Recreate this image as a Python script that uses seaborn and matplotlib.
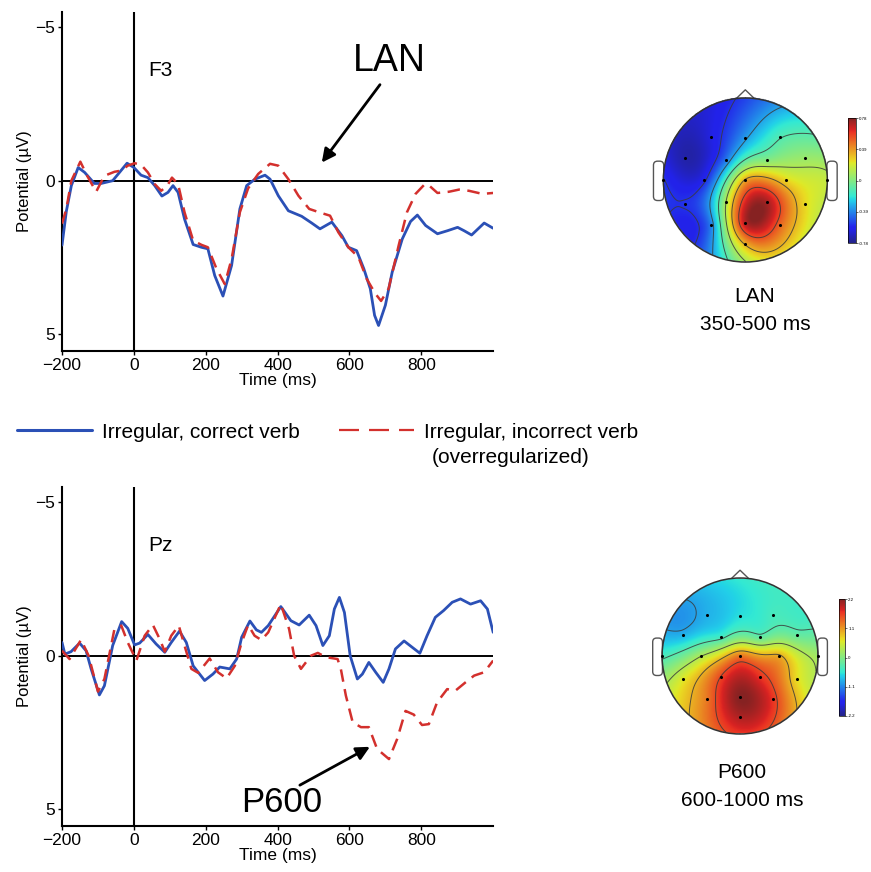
import numpy as np
import matplotlib
matplotlib.use("Agg")
import matplotlib.pyplot as plt
import matplotlib.patches as mpatches
from matplotlib.colors import ListedColormap
from matplotlib.lines import Line2D
import seaborn as sns

sns.set_style("ticks")
plt.rcParams['font.family'] = ['Liberation Sans', 'DejaVu Sans']
plt.rcParams['axes.unicode_minus'] = True
for key in ['text.color', 'axes.labelcolor', 'xtick.color', 'ytick.color', 'axes.edgecolor']:
    plt.rcParams[key] = 'black'

BLUE = '#2b50b6'
RED = '#d3302d'

# ---- ERP waveforms (µV, negative plotted up) ----
f3_t_correct = [-200, -188, -174, -155, -137, -110, -91, -59, -40, -19, 0, 20, 39, 58, 78,
                95, 109, 123, 141, 165, 188, 206, 225, 248, 272, 295, 314, 337, 365, 379,
                402, 430, 467, 495, 518, 551, 579, 597, 620, 640, 658, 670, 681, 700, 719,
                747, 770, 789, 812, 845, 873, 901, 919, 940, 975, 1000]
f3_correct = [2.1, 1.0, 0.16, -0.43, -0.27, 0.09, 0.09, 0.0, -0.27, -0.57, -0.43, -0.18, -0.10, 0.16, 0.50,
              0.38, 0.16, 0.38, 1.25, 2.08, 2.17, 2.22, 3.09, 3.76, 2.76, 0.92, 0.16, -0.05, -0.18, -0.05,
              0.49, 0.98, 1.16, 1.38, 1.57, 1.35, 1.79, 2.17, 2.28, 2.87, 3.52, 4.39, 4.72, 4.06, 2.98,
              1.90, 1.33, 1.12, 1.46, 1.73, 1.63, 1.52, 1.63, 1.77, 1.38, 1.55]

f3_t_incorrect = [-200, -188, -174, -149, -130, -105, -82, -54, -35, -17, 2, 20, 39, 58, 76,
                  93, 106, 123, 141, 165, 188, 206, 230, 253, 272, 295, 318, 346, 379, 402,
                  430, 458, 488, 521, 546, 569, 597, 625, 648, 672, 688, 709, 737, 760, 784,
                  810, 821, 845, 877, 905, 933, 970, 1000]
f3_incorrect = [1.4, 0.92, 0.0, -0.62, -0.16, 0.36, -0.16, -0.29, -0.33, -0.49, -0.57, -0.52, -0.27, 0.11, 0.33,
                0.16, -0.10, 0.11, 1.03, 1.95, 2.09, 2.17, 2.87, 3.37, 2.55, 1.03, 0.25, -0.22, -0.55, -0.49,
                -0.05, 0.49, 0.92, 1.05, 1.14, 1.68, 2.17, 2.49, 3.2, 3.68, 3.92, 3.52, 2.11, 1.03, 0.43,
                0.11, 0.15, 0.40, 0.36, 0.29, 0.33, 0.43, 0.40]

pz_t_correct = [-200, -192, -175, -151, -133, -119, -96, -82, -59, -34, -17, 2, 16, 39, 62,
                86, 104, 127, 146, 165, 197, 220, 239, 267, 286, 300, 323, 341, 355, 374,
                409, 437, 460, 488, 507, 526, 544, 558, 572, 586, 602, 622, 636, 654, 673,
                694, 710, 728, 752, 775, 796, 816, 839, 862, 886, 909, 937, 965, 984, 1000]
pz_correct = [-0.43, -0.05, -0.13, -0.41, -0.16, 0.43, 1.28, 0.98, -0.33, -1.11, -0.89, -0.35, -0.41, -0.69, -0.38,
              -0.11, -0.43, -0.80, -0.43, 0.33, 0.81, 0.60, 0.37, 0.43, 0.11, -0.60, -1.13, -0.84, -0.76, -0.98,
              -1.60, -1.14, -1.00, -1.32, -0.98, -0.33, -0.65, -1.52, -1.90, -1.41, 0.0, 0.76, 0.60, 0.22, 0.54,
              0.87, 0.43, -0.22, -0.48, -0.27, -0.08, -0.65, -1.25, -1.47, -1.74, -1.85, -1.68, -1.79, -1.52, -0.76]

pz_t_incorrect = [-200, -179, -147, -126, -100, -82, -54, -35, -17, 7, 30, 53, 72, 86, 104,
                  125, 141, 160, 179, 211, 234, 258, 281, 300, 318, 336, 355, 374, 409, 432,
                  446, 465, 493, 512, 535, 567, 576, 590, 609, 632, 654, 677, 710, 733, 756,
                  779, 802, 821, 844, 872, 895, 923, 947, 975, 1000]
pz_incorrect = [-0.16, 0.11, -0.52, 0.0, 1.17, 0.76, -0.87, -0.98, -0.43, 0.16, -0.65, -1.0, -0.54, -0.13, -0.65,
                -0.98, -0.33, 0.43, 0.56, 0.09, 0.54, 0.74, 0.33, -0.43, -1.0, -0.65, -0.51, -0.76, -1.68, -0.87,
                0.0, 0.43, 0.0, -0.09, 0.05, 0.11, 0.43, 1.3, 2.17, 2.33, 2.33, 3.04, 3.37, 2.71, 1.80,
                1.92, 2.26, 2.23, 1.52, 1.09, 1.14, 0.87, 0.65, 0.54, 0.16]

x_ticks = [-200, 0, 200, 400, 600, 800]
y_ticks = [-5, 0, 5]

# ---- scalp maps: electrode layout (unit head radius) and mean amplitudes ----
elec_x = [-0.42, 0.0, 0.42, -0.73, -0.24, 0.26, 0.73, -1.0, -0.5, 0.0, 0.5, 1.0,
          -0.73, -0.24, 0.26, 0.73, -0.42, 0.0, 0.42, 0.0]
elec_y = [0.52, 0.51, 0.52, 0.27, 0.24, 0.24, 0.27, 0.0, 0.0, 0.0, 0.0, 0.0,
          -0.29, -0.27, -0.27, -0.29, -0.55, -0.53, -0.55, -0.78]
lan_values = [-0.62, -0.35, -0.12, -0.72, -0.42, 0.0, 0.05, -0.55, -0.58, 0.35, 0.25, 0.15,
              -0.55, 0.10, 0.72, 0.25, -0.40, 0.70, 0.50, 0.35]
p600_values = [-0.85, -0.6, -0.4, -0.85, -0.4, -0.2, -0.2, -0.4, 0.3, 1.3, 1.0, 0.2,
               0.6, 1.6, 1.7, 0.7, 1.3, 2.2, 1.7, 2.0]

# jet, slightly muted like the printed maps
_jet = plt.get_cmap('jet')(np.linspace(0, 1, 256))
_jet[:, :3] = 0.78 * _jet[:, :3] + 0.22 * 0.62
topo_cmap = ListedColormap(_jet)


def draw_erp(ax, t1, v1, t2, v2, site):
    ax.axhline(0, color='black', lw=1.4, zorder=1)
    ax.axvline(0, color='black', lw=1.5, zorder=1)
    sns.lineplot(x=t1, y=v1, ax=ax, color=BLUE, lw=2.0, zorder=3)
    sns.lineplot(x=t2, y=v2, ax=ax, color=RED, lw=1.8, linestyle=(0, (5, 3)), zorder=4)
    ax.set_xlim(-200, 1000)
    ax.set_ylim(5.55, -5.5)
    ax.set_xticks(x_ticks)
    ax.set_yticks(y_ticks)
    ax.tick_params(direction='out', length=3, width=1, labelsize=12.5, pad=2)
    for s in ['left', 'bottom']:
        ax.spines[s].set_linewidth(1.5)
        ax.spines[s].set_color('black')
    sns.despine(ax=ax)
    ax.set_xlabel('Time (ms)', fontsize=12.5, labelpad=0)
    ax.set_ylabel('Potential (µV)', fontsize=12, labelpad=2)
    ax.text(39, -3.6, site, fontsize=15, ha='left', va='center')


def draw_topo(ax, cax, values, vmax, ticklabels):
    ex = np.array(elec_x)
    ey = np.array(elec_y)
    v = np.array(values)
    # biharmonic spline through electrode values (as in topoplot)
    d = np.hypot(ex[:, None] - ex[None, :], ey[:, None] - ey[None, :])
    with np.errstate(divide='ignore', invalid='ignore'):
        K = np.where(d > 0, d ** 2 * (np.log(d) - 1), 0.0)
    w = np.linalg.solve(K, v)
    g = np.linspace(-1, 1, 241)
    X, Y = np.meshgrid(g, g)
    dg = np.hypot(X[..., None] - ex, Y[..., None] - ey)
    with np.errstate(divide='ignore', invalid='ignore'):
        G = np.where(dg > 0, dg ** 2 * (np.log(dg) - 1), 0.0)
    Z = G @ w
    Z = np.clip(Z, -vmax, vmax)
    Z[np.hypot(X, Y) > 1.0] = np.nan

    im = ax.imshow(Z, extent=(-1, 1, -1, 1), origin='lower', cmap=topo_cmap,
                   vmin=-vmax, vmax=vmax, interpolation='bilinear', zorder=2)
    ax.contour(X, Y, Z, levels=np.linspace(-vmax, vmax, 8)[1:-1],
               colors='#3a3a3a', linewidths=0.7, linestyles='solid', alpha=0.85, zorder=3)
    ax.add_patch(mpatches.Circle((0, 0), 1.0, fill=False, ec='#333333', lw=1.1, zorder=4))
    ax.plot([-0.11, 0, 0.11], [0.994, 1.1, 0.994], color='#555555', lw=1.0, zorder=1)
    for side in (-1, 1):
        x0 = -1.12 if side < 0 else 0.995
        ax.add_patch(mpatches.FancyBboxPatch((x0, -0.25), 0.125, 0.48,
                                             boxstyle='round,pad=0,rounding_size=0.05',
                                             fc='white', ec='#555555', lw=1.0, zorder=1))
    ax.scatter(ex, ey, s=1.5, color='black', zorder=5)
    ax.set_xlim(-1.25, 1.25)
    ax.set_ylim(-1.25, 1.25)
    ax.set_aspect('equal')
    ax.axis('off')

    cb = plt.colorbar(im, cax=cax)
    cb.set_ticks([vmax, vmax / 2, 0, -vmax / 2, -vmax])
    cb.set_ticklabels(ticklabels)
    cb.ax.tick_params(labelsize=3.2, length=1.5, width=0.4, pad=0.8)
    cb.outline.set_linewidth(0.5)


fig = plt.figure(figsize=(8.71, 8.72), dpi=100)

ax_f3 = fig.add_axes([0.0712, 0.5975, 0.495, 0.3888])
ax_pz = fig.add_axes([0.0712, 0.0528, 0.495, 0.3888])
draw_erp(ax_f3, f3_t_correct, f3_correct, f3_t_incorrect, f3_incorrect, 'F3')
draw_erp(ax_pz, pz_t_correct, pz_correct, pz_t_incorrect, pz_incorrect, 'Pz')

arrow = dict(arrowstyle='-|>', color='black', lw=2, mutation_scale=20, shrinkA=0, shrinkB=0)
ax_f3.text(710, -3.9, 'LAN', fontsize=27, ha='center', va='center')
ax_f3.annotate('', xy=(523, -0.59), xytext=(685, -3.13), arrowprops=arrow)
ax_pz.text(411, 4.77, 'P600', fontsize=25, ha='center', va='center')
ax_pz.annotate('', xy=(657, 2.97), xytext=(462, 4.22), arrowprops=arrow)

ax_t1 = fig.add_axes([0.738, 0.676, 0.2354, 0.2351])
cax1 = fig.add_axes([0.9735, 0.7213, 0.0092, 0.1433])
draw_topo(ax_t1, cax1, lan_values, 0.78, ['0.78', '0.39', '0', '-0.39', '-0.78'])

ax_t2 = fig.add_axes([0.7377, 0.1359, 0.2239, 0.2236])
cax2 = fig.add_axes([0.9633, 0.1789, 0.0069, 0.134])
draw_topo(ax_t2, cax2, p600_values, 2.2, ['2.2', '1.1', '0', '-1.1', '-2.2'])

fig.text(755 / 871, 1 - 297 / 872, 'LAN', fontsize=15, ha='center', va='center')
fig.text(755 / 871, 1 - 324 / 872, '350-500 ms', fontsize=15, ha='center', va='center')
fig.text(742 / 871, 1 - 772 / 872, 'P600', fontsize=15, ha='center', va='center')
fig.text(742 / 871, 1 - 800 / 872, '600-1000 ms', fontsize=15, ha='center', va='center')

handles = [Line2D([], [], color=BLUE, lw=2.2),
           Line2D([], [], color=RED, lw=1.6, linestyle=(0, (9, 4.5)))]
fig.legend(handles, ['Irregular, correct verb', 'Irregular, incorrect verb'],
           ncol=2, frameon=False, loc='center left', bbox_to_anchor=(17 / 871, 1 - 432 / 872),
           fontsize=15, handlelength=3.6, handletextpad=0.5, columnspacing=1.85,
           borderpad=0, borderaxespad=0)
fig.text(432 / 871, 1 - 457 / 872, '(overregularized)', fontsize=15, ha='left', va='center')

fig.savefig('out.png', dpi=100)
